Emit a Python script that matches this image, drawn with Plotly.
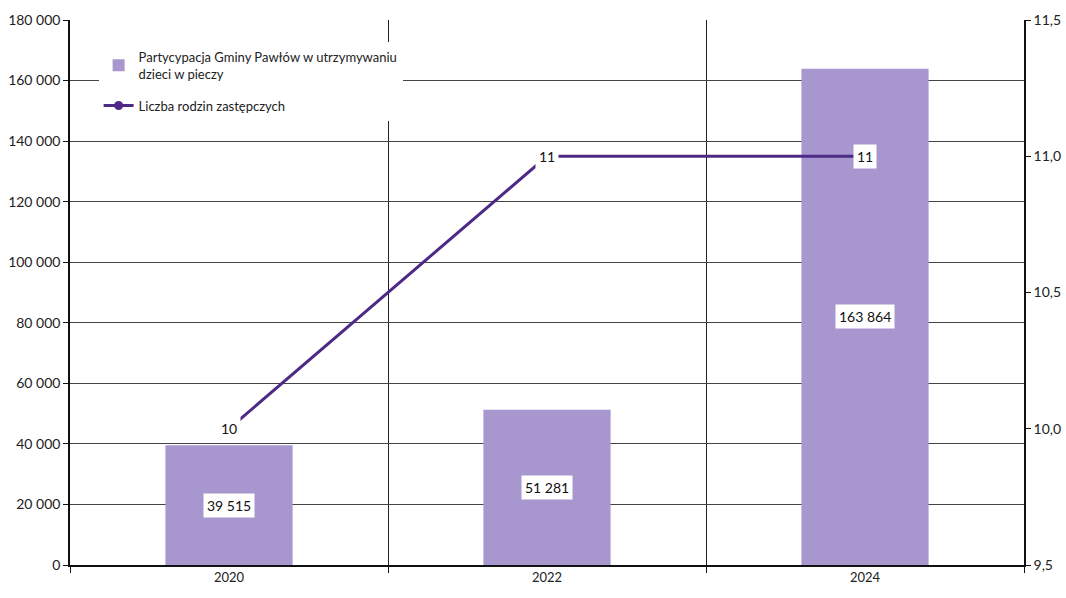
import plotly.graph_objects as go

years = ["2020", "2022", "2024"]
participation = [39515, 51281, 163864]
families = [10, 11, 11]
bar_name = "Partycypacja Gminy Pawłów w utrzymywaniu<br>dzieci w pieczy"
line_name = "Liczba rodzin zastępczych"
left_ticks = [0, 20000, 40000, 60000, 80000, 100000, 120000, 140000, 160000, 180000]
right_ticks = [9.5, 10.0, 10.5, 11.0, 11.5]

xs = list(range(len(years)))
font = "Lato, 'Open Sans', sans-serif"
bar_color = "#A896CE"
line_color = "#4E2A86"

fig = go.Figure()
fig.add_trace(go.Bar(x=xs, y=participation, name=bar_name, width=0.4, legendgroup="a",
                     marker=dict(color=bar_color, line=dict(width=0)), yaxis="y"))
fig.add_trace(go.Scatter(x=xs, y=families, name=line_name, mode="lines+markers", legendgroup="b",
                         line=dict(color=line_color, width=3),
                         marker=dict(size=9, color=line_color, symbol="circle"), yaxis="y2"))

def fmt_int(v):
    return f"{v:,}".replace(",", " ")

annotations = []
for x, v in zip(xs, participation):
    annotations.append(dict(x=x, y=v / 2, xref="x", yref="y", text=fmt_int(v), showarrow=False,
                            bgcolor="white", borderpad=3, font=dict(size=14, color="#111", family=font)))
for x, v in zip(xs, families):
    annotations.append(dict(x=x, y=v, xref="x", yref="y2", text=str(v), showarrow=False,
                            bgcolor="white", borderpad=3, font=dict(size=14, color="#111", family=font)))

fig.update_layout(
    width=1066, height=598,
    margin=dict(l=70, r=42, t=20, b=33),
    paper_bgcolor="white", plot_bgcolor="white",
    separators=", ",
    font=dict(family=font, size=13, color="#222"),
    xaxis=dict(range=[-0.5, 2.5], tickvals=xs, ticktext=years, ticks="", showgrid=False,
               showline=True, linecolor="#111", linewidth=1.5, zeroline=False,
               minor=dict(tickvals=[-0.5, 0.5, 1.5, 2.5], ticks="outside", ticklen=6,
                          tickcolor="#111", showgrid=True, gridcolor="#222", gridwidth=1.2),
               tickfont=dict(size=13, color="#222")),
    yaxis=dict(range=[0, 180000], tickvals=left_ticks, tickformat=",d", showgrid=True,
               gridcolor="#444", gridwidth=1, showline=True, linecolor="#111", linewidth=1.5,
               ticks="outside", ticklen=5, tickcolor="#111", zeroline=False, automargin=False,
               tickfont=dict(size=14, color="#222")),
    yaxis2=dict(range=[9.5, 11.5], tickvals=right_ticks, tickformat=".1f", overlaying="y",
                side="right", showgrid=False, showline=True, linecolor="#111", linewidth=1.5,
                ticks="outside", ticklen=5, tickcolor="#111", zeroline=False, automargin=False,
                tickfont=dict(size=14, color="#222")),
    legend=dict(x=0.03, y=0.96, xanchor="left", yanchor="top", bgcolor="white",
                traceorder="grouped", tracegroupgap=12,
                font=dict(size=13, color="#222", family=font), itemwidth=30),
    annotations=annotations,
    showlegend=True,
)

fig.write_html("out.html", config={"displayModeBar": False},
               post_script="document.body.style.margin='0';")
